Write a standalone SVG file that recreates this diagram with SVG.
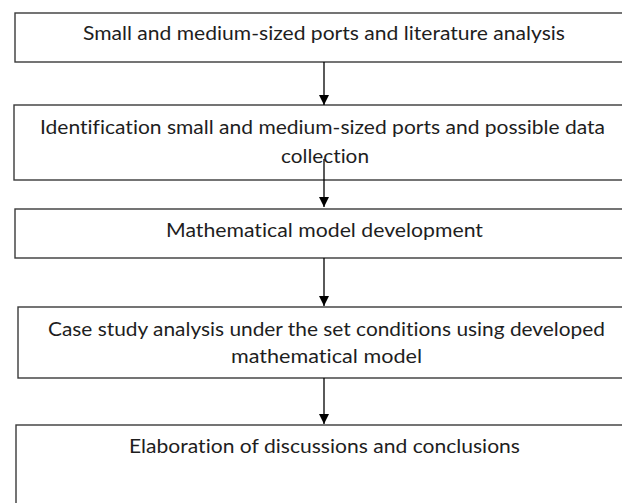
<svg xmlns="http://www.w3.org/2000/svg" width="622" height="503" viewBox="0 0 622 503">
  <style>
    .box { fill: #ffffff; stroke: #3a3a3a; stroke-width: 1.4; }
    .lbl { font-family: Lato, "Liberation Sans", sans-serif; font-size: 19.5px; fill: #1e1e1e; text-anchor: middle; font-variant-ligatures: none; }
    .conn { stroke: #000000; stroke-width: 1.3; fill: none; }
  </style>
  <defs>
    <marker id="arrow" viewBox="0 0 10 10" refX="10" refY="5" markerWidth="10" markerHeight="10" markerUnits="userSpaceOnUse" orient="auto">
      <path d="M0,0 L10,5 L0,10 Z" fill="#000000"/>
    </marker>
  </defs>
  <rect width="622" height="503" fill="#ffffff"/>

  <g id="step1">
    <rect class="box" x="15" y="13" width="620" height="49"/>
    <text class="lbl" x="324" y="40" textLength="482" lengthAdjust="spacingAndGlyphs">Small and medium-sized ports and literature analysis</text>
  </g>

  <g id="step2">
    <rect class="box" x="14" y="105" width="620" height="75"/>
    <text class="lbl" x="322.5" y="134" textLength="565" lengthAdjust="spacingAndGlyphs">Identification small and medium-sized ports and possible data</text>
    <text class="lbl" x="325" y="163" textLength="88" lengthAdjust="spacingAndGlyphs">collection</text>
  </g>

  <g id="step3">
    <rect class="box" x="15" y="209" width="620" height="49"/>
    <text class="lbl" x="324.5" y="237" textLength="317" lengthAdjust="spacingAndGlyphs">Mathematical model development</text>
  </g>

  <g id="step4">
    <rect class="box" x="18" y="307" width="620" height="71"/>
    <text class="lbl" x="326.5" y="336" textLength="557" lengthAdjust="spacingAndGlyphs">Case study analysis under the set conditions using developed</text>
    <text class="lbl" x="326.5" y="363" textLength="191" lengthAdjust="spacingAndGlyphs">mathematical model</text>
  </g>

  <g id="step5">
    <rect class="box" x="16" y="425" width="620" height="90"/>
    <text class="lbl" x="324.5" y="453" textLength="391" lengthAdjust="spacingAndGlyphs">Elaboration of discussions and conclusions</text>
  </g>

  <g id="connectors">
    <line class="conn" x1="324" y1="62" x2="324" y2="105" marker-end="url(#arrow)"/>
    <line class="conn" x1="324" y1="159" x2="324" y2="207" marker-end="url(#arrow)"/>
    <line class="conn" x1="324" y1="258" x2="324" y2="306" marker-end="url(#arrow)"/>
    <line class="conn" x1="324" y1="378" x2="324" y2="424" marker-end="url(#arrow)"/>
  </g>
</svg>
